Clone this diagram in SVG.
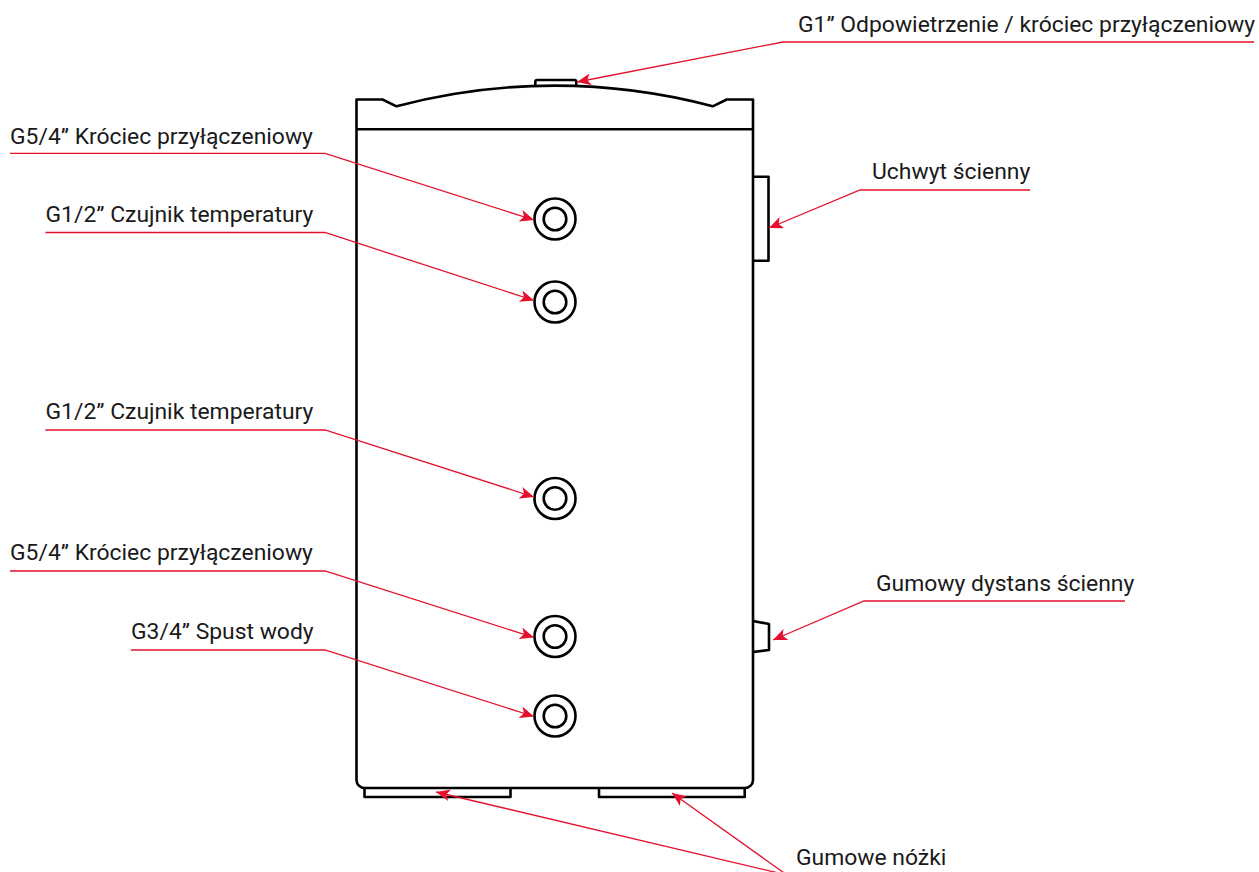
<svg xmlns="http://www.w3.org/2000/svg" width="1259" height="872" viewBox="0 0 1259 872">
<style>
.k{fill:none;stroke:#000;stroke-width:2.6;stroke-linejoin:round}
.l{fill:none;stroke:#e4112e;stroke-width:1.3}
.e{marker-end:url(#a)}
text{font-family:Roboto,"Liberation Sans",sans-serif;font-size:22.9px;fill:#1a1a1a}
</style>
<defs><marker id="a" markerUnits="userSpaceOnUse" markerWidth="16" markerHeight="12" refX="14" refY="6" orient="auto"><path d="M0 0L14 6L0 12L3.5 6Z" fill="#e4112e"/></marker></defs>
<rect width="1259" height="872" fill="#fff"/>
<g id="tank">
<path class="k" d="M356.5 129.5V99.5H382.5L396.5 106.3A616 616 0 0 1 712.7 106.3L726.7 99.5H753V780A8 8 0 0 1 745 788H364.5A8 8 0 0 1 356.5 780Z"/>
<path class="k" d="M356.5 129.3H753"/>
</g>
<g id="top-fitting"><path class="k" d="M535.3 85.5V82A2 2 0 0 1 537.3 80H574.3A2 2 0 0 1 576.3 82V85.5"/></g>
<g id="wall-bracket"><path class="k" d="M753 176.7H768.5V260.7H753"/></g>
<g id="wall-spacer"><path class="k" d="M753 621L769 624V650L753 652"/></g>
<g id="foot-left"><path class="k" d="M364.5 788V797H510.5V788"/></g>
<g id="foot-right"><path class="k" d="M599 788V797H744.7V788"/></g>
<g id="port-1"><circle class="k" cx="555" cy="219" r="20.5"/><circle class="k" cx="555" cy="219" r="11.3"/></g>
<g id="port-2"><circle class="k" cx="555" cy="302" r="20.5"/><circle class="k" cx="555" cy="302" r="11.3"/></g>
<g id="port-3"><circle class="k" cx="555" cy="498.5" r="20.5"/><circle class="k" cx="555" cy="498.5" r="11.3"/></g>
<g id="port-4"><circle class="k" cx="555" cy="636.5" r="20.5"/><circle class="k" cx="555" cy="636.5" r="11.3"/></g>
<g id="port-5"><circle class="k" cx="555" cy="716" r="20.5"/><circle class="k" cx="555" cy="716" r="11.3"/></g>
<g id="connectors">
<path class="l e" d="M1254 42H783L577 82"/>
<path class="l e" d="M10 153.3H325L534 220"/>
<path class="l e" d="M45.5 232.5H325L534 300.5"/>
<path class="l e" d="M45.5 430H325L534 497"/>
<path class="l e" d="M10 571H325L534 637.5"/>
<path class="l e" d="M131 650H325L534 716.5"/>
<path class="l e" d="M1030 190H860L769 228"/>
<path class="l e" d="M1125 601H864L773 640"/>
<path class="l e" d="M787 875L436 792"/>
<path class="l e" d="M787 875L672 793"/>
</g>
<g id="labels">
<text x="798" y="32">G1” Odpowietrzenie / króciec przyłączeniowy</text>
<text x="10" y="143.5">G5/4” Króciec przyłączeniowy</text>
<text x="45.5" y="222">G1/2” Czujnik temperatury</text>
<text x="45.5" y="419">G1/2” Czujnik temperatury</text>
<text x="10" y="560">G5/4” Króciec przyłączeniowy</text>
<text x="131" y="639">G3/4” Spust wody</text>
<text x="872" y="179">Uchwyt ścienny</text>
<text x="876" y="591">Gumowy dystans ścienny</text>
<text x="796" y="864.5">Gumowe nóżki</text>
</g>
</svg>
